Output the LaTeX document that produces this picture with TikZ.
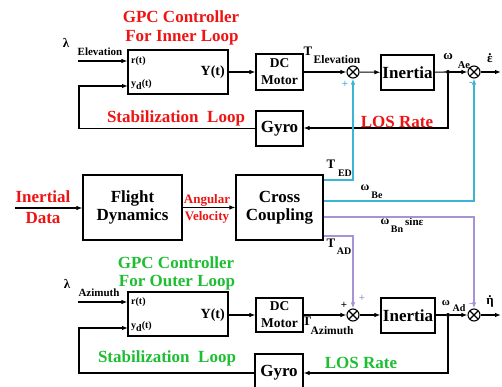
\documentclass[tikz,border=0pt]{standalone}
\usepackage{fontspec}
\setmainfont{Liberation Serif}
\usetikzlibrary{arrows.meta}
\definecolor{myred}{RGB}{238,20,20}
\definecolor{mygreen}{RGB}{30,190,50}
\definecolor{mycyan}{RGB}{60,180,212}
\definecolor{mypurple}{RGB}{168,145,212}
\newcommand{\fs}[1]{\fontsize{#1}{#1}\selectfont\bfseries}
\begin{document}
\begin{tikzpicture}[x=1pt,y=-1pt,
  blk/.style={draw, line width=1.2pt, inner sep=0, align=center, font=\fs{17}},
  sumc/.style={draw, circle, line width=1.1pt, minimum size=12pt, inner sep=0,
     path picture={\draw[line width=1.1pt] (path picture bounding box.north west) -- (path picture bounding box.south east)
     (path picture bounding box.north east) -- (path picture bounding box.south west);}},
  dotc/.style={circle, fill, minimum size=4pt, inner sep=0},
  lbl/.style={inner sep=0, font=\fs{#1}},
  lbl/.default=17,
  dotlbl/.style={inner sep=0, align=center, font=\fontsize{13}{7}\selectfont\bfseries},
  ln/.style={line width=1.1pt},
  arr/.style={ln, -{Latex[length=6pt,width=4.5pt]}},
  cyanl/.style={draw=mycyan, line width=1.5pt, -{Latex[length=6pt,width=4.5pt]}, color=mycyan},
  purl/.style={draw=mypurple, line width=1.5pt, -{Latex[length=6pt,width=4.5pt]}, color=mypurple}]
\clip (0,0) rectangle (502,387);
\fill[white] (0,0) rectangle (502,387);

% ---------- top loop ----------
\node[lbl,text=myred] (t1a) at (181,17) {GPC Controller};
\node[lbl,text=myred] (t1b) at (182,38) {For Inner Loop};
\node[blk, minimum width=100pt, minimum height=44pt] (ctrl1) at (178,72) {};
\node[lbl=10, anchor=west] (r1) at (131,61) {r(t)};
\node[lbl=10, anchor=west] (y1) at (131,85) {y\raisebox{-3pt}{d}(t)};
\node[lbl=14, anchor=east] (Y1) at (225,72) {Y(t)};
\node[blk, minimum width=47pt, minimum height=36pt, font=\fontsize{13.5}{17}\selectfont\bfseries] (motor1) at (279.5,72) {DC\\Motor};
\node[sumc] (s1) at (353,72) {};
\node[blk, minimum width=53pt, minimum height=35pt] (inertia1) at (407.5,72.5) {Inertia};
\node[dotc] (d1) at (448,72) {};
\node[sumc] (s2) at (474,72) {};
\coordinate (out1) at (501,72);
\node[blk, minimum width=47pt, minimum height=35pt] (gyro1) at (279.5,128.5) {Gyro};

\coordinate (lam1) at (78,61);
\node[lbl=13] (lamA) at (66,43) {λ};
\node[lbl=11] (lamAs) at (100,52) {Elevation};
\draw[arr] (lam1) -- (ctrl1.west |- lam1);
\coordinate (fbc1) at (79,86);
\coordinate (c1yd) at (128,86);
\draw[arr] (gyro1.west) -| (fbc1) -- (c1yd);
\draw[arr] (ctrl1) -- (motor1);
\draw[arr] (motor1) -- (s1);
\draw[arr] (s1) -- (inertia1);
\draw[ln] (inertia1) -- (d1);
\draw[arr] (d1) -- (s2);
\draw[arr] (s2) -- (out1);
\coordinate (los1) at (448,128);
\draw[arr] (d1) -- (los1) -- (gyro1.east |- los1);

\node[lbl=13] (Te) at (308,51) {T};
\node[lbl=11.5] (Tes) at (337,60) {Elevation};
\node[lbl=13] (wA) at (448,57) {ω};
\node[lbl=10.5] (wAs) at (464,65) {Ae};
\node[dotlbl] (eps) at (490,58) {.\\ε};
\node[lbl=11, text=mycyan] (p1) at (345,84) {+};
\node[lbl=11, text=mycyan] (m1) at (471,84) {-};
\node[lbl,text=myred] (stab1) at (176,118) {Stabilization\ \ Loop};
\node[lbl,text=myred] (losr1) at (397,122) {LOS Rate};

% ---------- middle ----------
\node[lbl,text=myred] (in1) at (43,197) {Inertial};
\node[lbl,text=myred] (in2) at (43,218) {Data};
\coordinate (inp) at (15,208);
\node[blk, minimum width=99pt, minimum height=65pt] (fd) at (132.5,207.5) {Flight\\[1pt]Dynamics};
\node[blk, minimum width=87pt, minimum height=65pt] (cc) at (279.5,207.5) {Cross\\[1pt]Coupling};
\draw[arr] (inp) -- (inp -| fd.west);
\draw[arr] (fd) -- (cc);
\node[lbl=13,text=myred] (ang1) at (207,200) {Angular};
\node[lbl=13,text=myred] (ang2) at (207,217) {Velocity};

\coordinate (ted) at (353,180);
\draw[cyanl] (cc.east |- ted) -- (ted) -- (s1.south);
\coordinate (wbe) at (474,201);
\draw[cyanl] (cc.east |- wbe) -- (wbe) -- (s2.south);
\coordinate (wbn) at (474,217);
\coordinate (tad) at (353,236);

\node[lbl=13] (Ted) at (331,164) {T};
\node[lbl=10] (Teds) at (345,173) {ED};
\node[lbl=12] (wBe) at (365,188) {ω};
\node[lbl=10] (wBes) at (377,195) {Be};
\node[lbl=12] (wBn) at (385,222) {ω};
\node[lbl=10] (wBns) at (397,229) {Bn};
\node[lbl=11, anchor=west] (sine) at (405,222) {sinε};
\node[lbl=13] (Tad) at (331,243) {T};
\node[lbl=10] (Tads) at (344,251) {AD};

% ---------- bottom loop ----------
\node[lbl,text=mygreen] (t2a) at (176,263) {GPC Controller};
\node[lbl,text=mygreen] (t2b) at (177,283) {For Outer Loop};
\node[blk, minimum width=100pt, minimum height=44pt] (ctrl2) at (178,314) {};
\node[lbl=10, anchor=west] (r2) at (131,302) {r(t)};
\node[lbl=10, anchor=west] (y2) at (131,327) {y\raisebox{-3pt}{d}(t)};
\node[lbl=14, anchor=east] (Y2) at (225,315) {Y(t)};
\node[blk, minimum width=47pt, minimum height=34pt, font=\fontsize{13.5}{17}\selectfont\bfseries] (motor2) at (279.5,315) {DC\\Motor};
\node[sumc] (s3) at (353,315) {};
\node[blk, minimum width=54pt, minimum height=35pt] (inertia2) at (408,315.5) {Inertia};
\node[dotc] (d2) at (448,315) {};
\node[sumc] (s4) at (474,315) {};
\coordinate (out2) at (501,315);
\node[blk, minimum width=48pt, minimum height=38pt] (gyro2) at (279,373) {Gyro};

\draw[purl] (cc.east |- wbn) -- (wbn) -- (s4.north);
\draw[purl] (cc.east |- tad) -- (tad) -- (s3.north);

\coordinate (lam2) at (78,302);
\node[lbl=13] (lamB) at (67,284) {λ};
\node[lbl=11] (lamBs) at (99,293) {Azimuth};
\draw[arr] (lam2) -- (ctrl2.west |- lam2);
\coordinate (fbc2) at (79,328);
\coordinate (c2yd) at (128,328);
\draw[arr] (gyro2.west) -| (fbc2) -- (c2yd);
\draw[arr] (ctrl2.east |- motor2) -- (motor2);
\draw[arr] (motor2) -- (s3);
\draw[arr] (s3) -- (inertia2.west |- s3);
\draw[ln] (inertia2.east |- d2) -- (d2);
\draw[arr] (d2) -- (s4);
\draw[arr] (s4) -- (out2);
\coordinate (los2) at (448,373);
\draw[arr] (d2) -- (los2) -- (gyro2.east |- los2);

\node[lbl=13] (Ta) at (307,321) {T};
\node[lbl=11.5] (Tas) at (332,331) {Azimuth};
\node[lbl=11] (wAd) at (446,303) {ω};
\node[lbl=10] (wAds) at (459,308) {Ad};
\node[dotlbl] (eta) at (490,301) {.\\η};
\node[lbl=11] (p3a) at (344,305) {+};
\node[lbl=11, text=mypurple] (p3b) at (362,298) {+};
\node[lbl=11, text=mypurple] (m4) at (471,305) {-};
\node[lbl,text=mygreen] (stab2) at (167,358) {Stabilization\ \ Loop};
\node[lbl,text=mygreen] (losr2) at (361,363) {LOS Rate};
\end{tikzpicture}
\end{document}
